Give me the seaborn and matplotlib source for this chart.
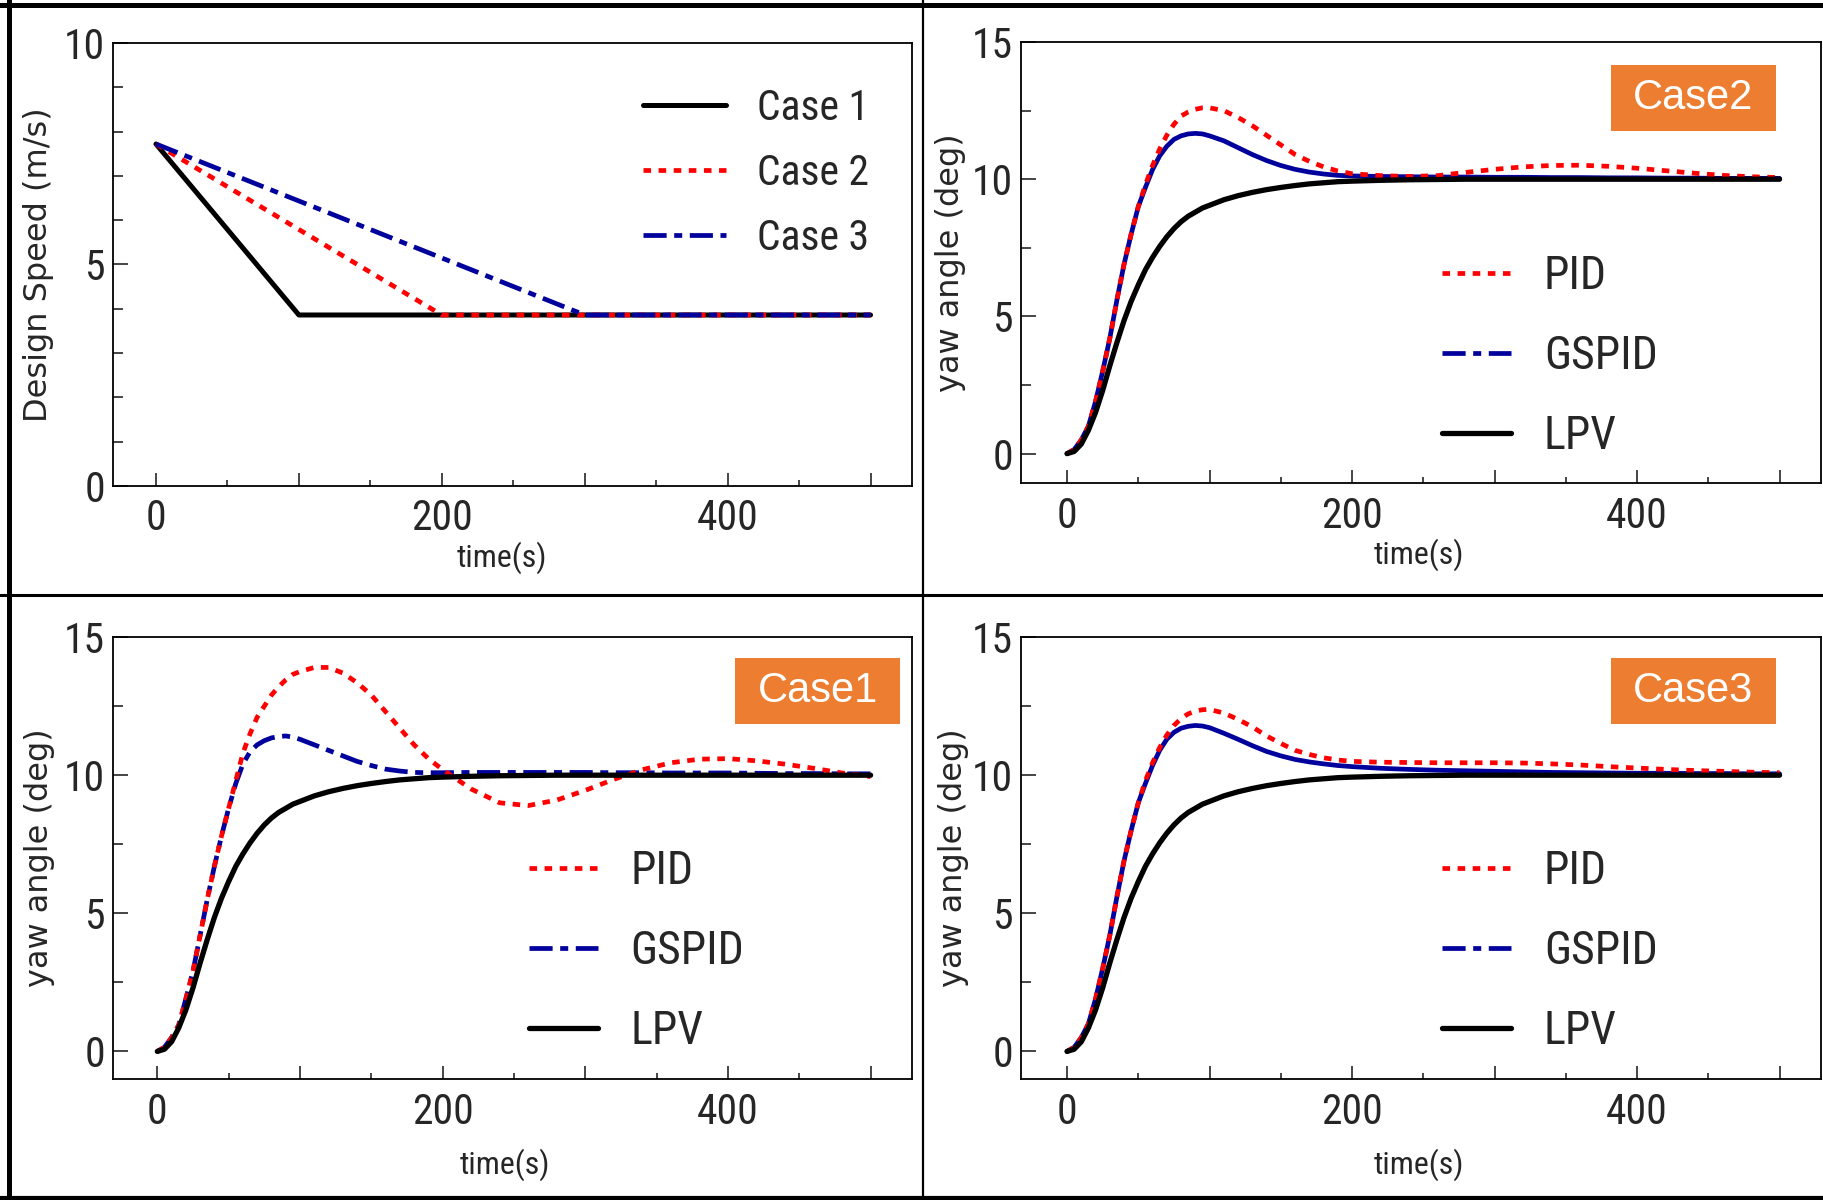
import matplotlib
matplotlib.use('Agg')
import matplotlib.pyplot as plt
from matplotlib.lines import Line2D
from matplotlib.patches import Rectangle
from matplotlib.ticker import MultipleLocator
from matplotlib import font_manager
import pandas as pd
import seaborn as sns

# ---------------- data ----------------
# design speed (m/s) for the three cases
speed_t_case1 = [0, 100, 500]
speed_t_case2 = [0, 200, 500]
speed_t_case3 = [0, 300, 500]
speed_case1 = [7.72, 3.86, 3.86]
speed_case2 = [7.72, 3.86, 3.86]
speed_case3 = [7.72, 3.86, 3.86]

# yaw angle responses (deg)
time = [0, 5, 10, 15, 20, 25, 30, 35, 40, 45, 50, 55, 60, 65, 70, 75, 80, 85, 90, 95,
        100, 110, 120, 130, 140, 150, 160, 170, 180, 190, 200, 220, 240, 260, 280, 300,
        320, 340, 360, 380, 400, 420, 440, 460, 480, 500]

lpv = [0, 0.08, 0.35, 0.85, 1.5, 2.3, 3.2, 4.05, 4.85, 5.55, 6.15, 6.7, 7.15, 7.55, 7.9, 8.2,
       8.45, 8.65, 8.8, 8.95, 9.05, 9.25, 9.4, 9.52, 9.62, 9.7, 9.77, 9.83, 9.87, 9.91, 9.93,
       9.96, 9.98, 9.99, 10, 10, 10, 10, 10, 10, 10, 10, 10, 10, 10, 10]

pid_case1 = [0, 0.15, 0.5, 0.95, 1.9, 2.9, 4.2, 5.5, 6.7, 7.8, 8.8, 9.8, 10.8, 11.5, 12.1, 12.5,
             12.9, 13.2, 13.45, 13.65, 13.75, 13.9, 13.9, 13.7, 13.35, 12.9, 12.3, 11.7, 11.1,
             10.6, 10.2, 9.5, 9.0, 8.9, 9.1, 9.45, 9.85, 10.2, 10.45, 10.58, 10.6, 10.52, 10.4,
             10.25, 10.08, 9.95]
gspid_case1 = [0, 0.15, 0.5, 0.95, 1.9, 2.9, 4.2, 5.5, 6.7, 7.8, 8.8, 9.7, 10.4, 10.85, 11.1,
               11.25, 11.35, 11.4, 11.42, 11.38, 11.3, 11.1, 10.9, 10.7, 10.5, 10.35, 10.22,
               10.15, 10.1, 10.09, 10.09, 10.1, 10.1, 10.1, 10.1, 10.1, 10.09, 10.09, 10.08,
               10.08, 10.08, 10.07, 10.06, 10.06, 10.05, 10.05]

pid_case2 = [0, 0.15, 0.5, 1.0, 1.9, 3.0, 4.2, 5.6, 6.9, 8.0, 9.0, 9.8, 10.5, 11.1, 11.6, 12.0,
             12.3, 12.45, 12.55, 12.6, 12.6, 12.5, 12.25, 11.95, 11.6, 11.25, 10.9, 10.65,
             10.45, 10.3, 10.2, 10.13, 10.1, 10.13, 10.25, 10.36, 10.45, 10.5, 10.51, 10.47,
             10.4, 10.31, 10.22, 10.14, 10.09, 10.06]
gspid_case2 = [0, 0.15, 0.5, 1.0, 1.9, 3.0, 4.2, 5.6, 6.9, 8.0, 9.0, 9.7, 10.35, 10.85, 11.2,
               11.45, 11.58, 11.65, 11.67, 11.65, 11.58, 11.4, 11.15, 10.9, 10.68, 10.5, 10.36,
               10.26, 10.19, 10.14, 10.12, 10.1, 10.09, 10.08, 10.08, 10.07, 10.07, 10.06,
               10.06, 10.05, 10.05, 10.04, 10.04, 10.03, 10.03, 10.03]

pid_case3 = [0, 0.15, 0.5, 1.0, 1.9, 3.0, 4.2, 5.6, 6.9, 8.0, 9.0, 9.8, 10.45, 11.0, 11.45,
             11.8, 12.05, 12.22, 12.32, 12.37, 12.38, 12.25, 12.02, 11.75, 11.42, 11.15, 10.9,
             10.75, 10.63, 10.55, 10.5, 10.47, 10.46, 10.45, 10.45, 10.45, 10.44, 10.41,
             10.37, 10.31, 10.26, 10.21, 10.17, 10.14, 10.11, 10.09]
gspid_case3 = [0, 0.15, 0.5, 1.0, 1.9, 3.0, 4.2, 5.6, 6.9, 8.0, 9.0, 9.7, 10.35, 10.9, 11.3,
               11.55, 11.7, 11.77, 11.8, 11.78, 11.72, 11.52, 11.3, 11.07, 10.86, 10.7, 10.57,
               10.48, 10.41, 10.35, 10.31, 10.25, 10.21, 10.18, 10.16, 10.14, 10.12, 10.1,
               10.09, 10.08, 10.07, 10.07, 10.06, 10.06, 10.05, 10.05]

# ---------------- style ----------------
sns.set_theme(style='ticks')

# pick a narrow face for the numbers / legend if one is installed
fonts = font_manager.fontManager.ttflist
names = {f.name for f in fonts}
narrow = None
for cand in ['Liberation Sans Narrow', 'Roboto Condensed', 'Open Sans Condensed',
             'DejaVu Sans Condensed', 'Noto Sans Condensed']:
    if cand in names:
        narrow = cand
        break
stretch = 'normal'
if narrow is None:
    if any(f.name == 'DejaVu Sans' and 'Condensed' in f.fname for f in fonts):
        narrow, stretch = 'DejaVu Sans', 'condensed'
    elif any(f.name == 'Roboto' and 'Condensed' in f.fname for f in fonts):
        narrow, stretch = 'Roboto', 'condensed'
    else:
        narrow = 'Liberation Sans'
plt.rcParams['font.family'] = [narrow, 'DejaVu Sans']
plt.rcParams['font.stretch'] = stretch
plt.rcParams['axes.linewidth'] = 1.3

RED = '#FF0000'
BLUE = '#00009C'
ORANGE = '#ED7D31'
PID_LS = (0, (1.6, 1.6))
GSPID_LS = (0, (4.9, 1.6, 1.7, 1.6))
LW = 3.4

fig = plt.figure(figsize=(18.24, 12), dpi=100)

ax_speed = fig.add_axes([0.0620, 0.595, 0.4380, 0.3692])
ax_c2 = fig.add_axes([0.5600, 0.5975, 0.4383, 0.3675])
ax_c1 = fig.add_axes([0.0620, 0.1008, 0.4380, 0.3683])
ax_c3 = fig.add_axes([0.5600, 0.1008, 0.4383, 0.3683])


def style_axes(ax, ymin, ymax, ymajor, yminor, xmin):
    ax.set_xlim(xmin, 529)
    ax.set_ylim(ymin, ymax)
    ax.set_xticks([0, 100, 200, 300, 400, 500])
    ax.set_xticklabels(['0', '', '200', '', '400', ''])
    ax.xaxis.set_minor_locator(MultipleLocator(50))
    ax.yaxis.set_major_locator(MultipleLocator(ymajor))
    ax.yaxis.set_minor_locator(MultipleLocator(yminor))
    ax.tick_params(direction='in', which='both', width=1.2, labelsize=30,
                   top=False, right=False)
    ax.tick_params(axis='x', which='major', length=9.4, pad=9)
    ax.tick_params(axis='x', which='minor', length=4.3)
    ax.tick_params(axis='y', which='major', length=10.5, pad=6)
    ax.tick_params(axis='y', which='minor', length=7.2)
    ax.set_xlabel('time(s)', fontsize=23)
    for sp in ax.spines.values():
        sp.set_linewidth(1.3)
        sp.set_color('black')


# ---- design speed panel ----
speed_df = pd.concat([
    pd.DataFrame({'time': speed_t_case1, 'speed': speed_case1, 'case': 'Case 1'}),
    pd.DataFrame({'time': speed_t_case2, 'speed': speed_case2, 'case': 'Case 2'}),
    pd.DataFrame({'time': speed_t_case3, 'speed': speed_case3, 'case': 'Case 3'}),
])
sns.lineplot(data=speed_df[speed_df.case == 'Case 1'], x='time', y='speed', ax=ax_speed,
             color='black', lw=3.6, estimator=None, sort=False)
sns.lineplot(data=speed_df[speed_df.case == 'Case 2'], x='time', y='speed', ax=ax_speed,
             color=RED, lw=LW, linestyle=PID_LS, estimator=None, sort=False)
sns.lineplot(data=speed_df[speed_df.case == 'Case 3'], x='time', y='speed', ax=ax_speed,
             color=BLUE, lw=LW, linestyle=GSPID_LS, estimator=None, sort=False)
style_axes(ax_speed, 0, 10, 5, 1, -30)
ax_speed.set_ylabel('Design Speed (m/s)', fontsize=23, family='DejaVu Sans',
                    fontstretch='normal')
ax_speed.yaxis.set_label_coords(-0.074, 0.5)
ax_speed.xaxis.set_label_coords(0.487, -0.126)

speed_handles = [Line2D([], [], color='black', lw=3.6),
                 Line2D([], [], color=RED, lw=LW, linestyle=PID_LS),
                 Line2D([], [], color=BLUE, lw=LW, linestyle=GSPID_LS)]
ax_speed.legend(speed_handles, ['Case 1', 'Case 2', 'Case 3'], loc='center left',
                bbox_to_anchor=(0.3525, 0.8555), bbox_transform=fig.transFigure,
                frameon=False, fontsize=30, handlelength=2.0, handletextpad=0.74,
                labelspacing=0.58, borderpad=0, borderaxespad=0)

# ---- yaw panels ----
yaw_df = pd.DataFrame({'time': time, 'LPV': lpv,
                       'PID1': pid_case1, 'GSPID1': gspid_case1,
                       'PID2': pid_case2, 'GSPID2': gspid_case2,
                       'PID3': pid_case3, 'GSPID3': gspid_case3})

panels = [
    (ax_c1, '1', GSPID_LS, 'Case1', -31, -1.0, (0.290, 0.2075), (-0.073, -0.158), 0.49,
     (735 / 1824, 1 - 724 / 1200)),
    (ax_c2, '2', '-', 'Case2', -32, -1.07, (0.7906, 0.7035), (-0.069, -0.126), 0.497,
     (1611 / 1824, 1 - 131 / 1200)),
    (ax_c3, '3', '-', 'Case3', -32, -1.0, (0.7906, 0.2075), (-0.065, -0.158), 0.497,
     (1611 / 1824, 1 - 724 / 1200)),
]

for ax, k, gs_ls, tag, xmin, ymin, leg_xy, lab_xy, xlab_x, box_xy in panels:
    sns.lineplot(data=yaw_df, x='time', y='GSPID' + k, ax=ax, color=BLUE, lw=LW,
                 linestyle=gs_ls, estimator=None, sort=False)
    sns.lineplot(data=yaw_df, x='time', y='PID' + k, ax=ax, color=RED, lw=LW,
                 linestyle=PID_LS, estimator=None, sort=False)
    sns.lineplot(data=yaw_df, x='time', y='LPV', ax=ax, color='black', lw=3.8,
                 estimator=None, sort=False)
    style_axes(ax, ymin, 15, 5, 2.5, xmin)
    ax.set_ylabel('yaw angle (deg)', fontsize=23, family='DejaVu Sans',
                  fontstretch='normal')
    ax.yaxis.set_label_coords(lab_xy[0], 0.5)
    ax.xaxis.set_label_coords(xlab_x, lab_xy[1])

    handles = [Line2D([], [], color=RED, lw=LW, linestyle=PID_LS),
               Line2D([], [], color=BLUE, lw=LW, linestyle=GSPID_LS),
               Line2D([], [], color='black', lw=3.8)]
    ax.legend(handles, ['PID', 'GSPID', 'LPV'], loc='center left',
              bbox_to_anchor=leg_xy, bbox_transform=fig.transFigure,
              frameon=False, fontsize=33, handlelength=1.5, handletextpad=0.72,
              labelspacing=0.79, borderpad=0, borderaxespad=0)

    bw, bh = 165 / 1824, 66 / 1200
    fig.add_artist(Rectangle(box_xy, bw, bh, transform=fig.transFigure,
                             facecolor=ORANGE, edgecolor='none', zorder=5))
    fig.text(box_xy[0] + bw / 2, box_xy[1] + bh / 2, tag, color='white', fontsize=30,
             family='Liberation Sans', fontstretch='normal', ha='center', va='center',
             zorder=6)

# ---- outer frame and dividers ----
frame = [((0, 1), (0.9958, 0.9958), 3.6),
         ((0.0049, 0.0049), (0, 1), 3.6),
         ((0, 1), (0.0017, 0.0017), 3.0),
         ((0, 1), (0.504, 0.504), 2.2),
         ((0.5058, 0.5058), (0, 1), 1.6)]
for xs, ys, lw in frame:
    fig.add_artist(Line2D(xs, ys, transform=fig.transFigure, color='black', lw=lw))

fig.savefig('out.png', dpi=100)
